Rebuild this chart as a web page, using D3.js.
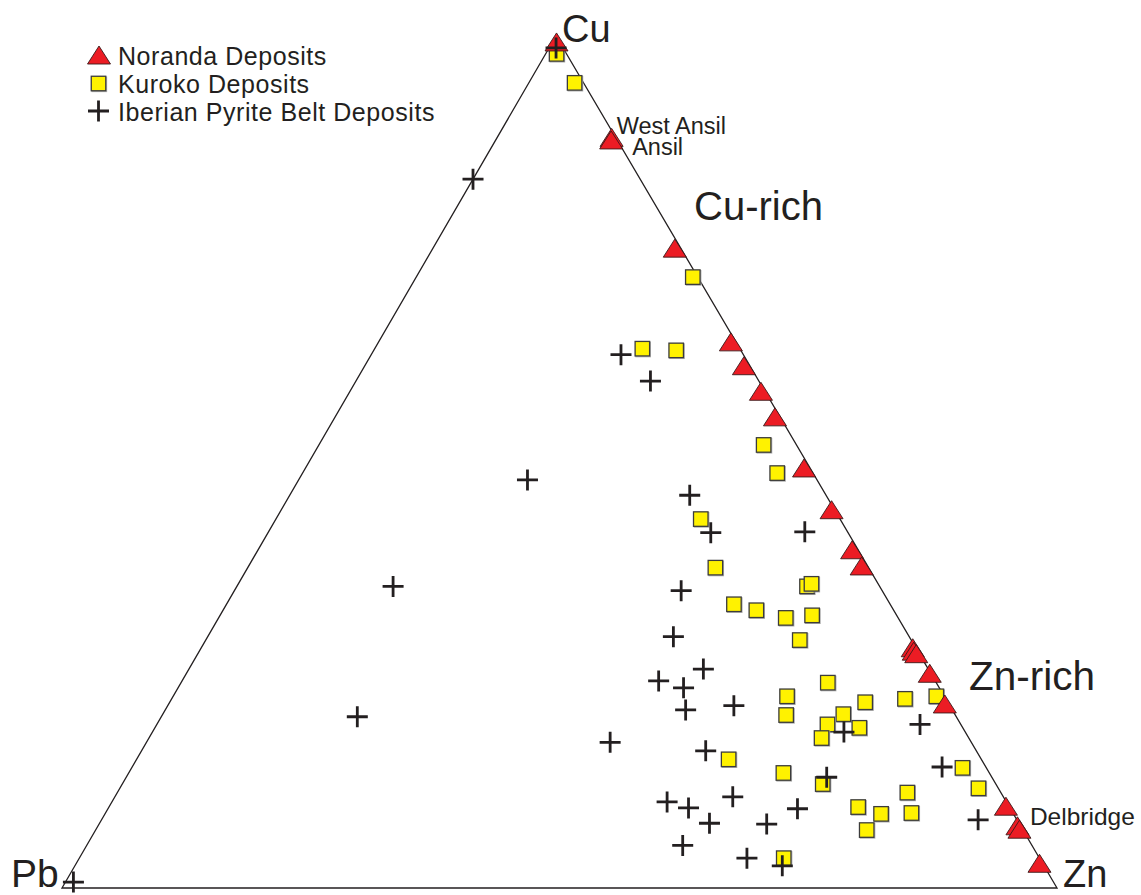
<!DOCTYPE html>
<html>
<head>
<meta charset="utf-8">
<script src="https://cdn.jsdelivr.net/npm/d3@7"></script>
<style>
  html, body { margin: 0; padding: 0; background: #ffffff; }
  svg { display: block; }
  text { font-family: "Liberation Sans", Arial, Helvetica, sans-serif; fill: #231f20; }
</style>
</head>
<body>
<div id="chart"></div>
<script>
// ---- Data (percent Cu, Zn, Pb) ----
const norandaNames = ["", "West Ansil", "Ansil", "", "", "", "", "", "", "", "", "", "", "", "", "", "", "Delbridge", "", "", ""];
const norandaCu = [99.3, 88.1, 87.8, 75.1, 64.1, 61.3, 58.3, 55.3, 49.3, 44.4, 39.7, 37.8, 28.2, 27.8, 27.5, 25.2, 21.6, 9.6, 7.3, 6.9, 2.9];
const norandaZn = [0.4, 11.5, 11.6, 24.3, 35.4, 38.1, 41.3, 44.2, 50.1, 55.3, 59.7, 61.6, 71.5, 71.8, 72.2, 74.7, 78.0, 90.1, 92.4, 92.8, 96.8];
const norandaPb = [0.3, 0.4, 0.6, 0.6, 0.5, 0.6, 0.4, 0.5, 0.6, 0.3, 0.6, 0.6, 0.3, 0.4, 0.3, 0.1, 0.4, 0.3, 0.3, 0.3, 0.3];

const kurokoCu = [97.9, 94.5, 71.7, 63.3, 63.1, 52.0, 48.7, 43.3, 37.6, 33.3, 32.6, 31.7, 35.4, 35.7, 32.0, 29.1, 24.1, 22.5, 20.3, 21.8, 22.2, 22.5, 20.4, 19.2, 17.6, 18.8, 15.1, 13.5, 14.1, 12.2, 11.7, 11.2, 9.5, 8.7, 8.8, 6.8, 3.5];
const kurokoZn = [1.1, 4.6, 27.8, 26.9, 30.4, 44.7, 47.7, 42.7, 47.0, 51.0, 53.6, 57.0, 57.3, 57.6, 59.5, 59.7, 65.0, 61.7, 62.7, 69.9, 73.7, 76.7, 68.4, 67.4, 67.6, 70.8, 59.5, 65.8, 83.5, 70.4, 86.3, 79.4, 75.3, 78.0, 81.0, 77.5, 70.8];
const kurokoPb = [1.0, 0.9, 0.5, 9.8, 6.5, 3.3, 3.6, 14.0, 15.4, 15.7, 13.8, 11.3, 7.3, 6.7, 8.5, 11.2, 10.9, 15.8, 17.0, 8.3, 4.1, 0.8, 11.2, 13.4, 14.8, 10.4, 25.4, 20.7, 2.4, 17.4, 2.0, 9.4, 15.2, 13.3, 10.2, 15.7, 25.7];

const iberianCu = [98.6, 83.2, 62.6, 59.5, 47.9, 35.4, 20.1, 17.1, 46.1, 41.7, 41.8, 34.9, 29.5, 25.7, 24.3, 23.5, 20.9, 21.4, 18.3, 19.2, 16.1, 14.2, 13.0, 10.1, 9.4, 10.7, 7.6, 9.3, 7.5, 5.0, 3.5, 2.6, 8.0, 0.7];
const iberianZn = [0.7, 0.0, 25.1, 29.6, 23.0, 15.7, 19.7, 46.6, 40.2, 44.5, 53.9, 44.9, 46.8, 51.7, 47.9, 50.8, 52.3, 56.9, 69.5, 76.7, 56.7, 81.4, 70.4, 55.8, 58.3, 62.1, 61.3, 69.3, 67.1, 59.9, 67.1, 71.1, 88.1, 0.8];
const iberianPb = [0.7, 16.8, 12.3, 10.9, 29.1, 48.9, 60.2, 36.3, 13.7, 13.8, 4.3, 20.2, 23.7, 22.6, 27.8, 25.7, 26.8, 21.7, 12.2, 4.1, 27.2, 4.4, 16.6, 34.1, 32.3, 27.2, 31.1, 21.4, 25.4, 35.1, 29.4, 26.3, 3.9, 98.5];

const seriesNames = ["Noranda Deposits", "Kuroko Deposits", "Iberian Pyrite Belt Deposits"];
const vertexLabels = ["Cu", "Pb", "Zn"];
const fieldLabels = ["Cu-rich", "Zn-rich"];

// ---- Layout ----
const W = 1141, H = 895;
const svg = d3.select("#chart").append("svg").attr("width", W).attr("height", H);
svg.append("rect").attr("width", W).attr("height", H).attr("fill", "#ffffff");

// Ternary scales: Cu sets height, Zn sets position along base, Cu shifts toward apex.
const cuY = d3.scaleLinear().domain([0, 100]).range([888, 36]);
const znX = d3.scaleLinear().domain([0, 100]).range([62, 1057]);
const cuShift = d3.scaleLinear().domain([0, 100]).range([0, 556 - 62]);
const px = (cu, zn) => znX(zn) + cuShift(cu);
const py = (cu) => cuY(cu);

const ink = "#231f20";

// Frame triangle
const verts = [[px(100, 0), py(100)], [px(0, 0), py(0)], [px(0, 100), py(0)]];
svg.append("path")
  .attr("d", d3.line()(verts) + "Z")
  .attr("fill", "none").attr("stroke", ink).attr("stroke-width", 1.3)
  .attr("stroke-linejoin", "miter");

const toPts = (cu, zn, pb, names) => cu.map((c, i) => ({ cu: c, zn: zn[i], pb: pb[i], name: names ? names[i] : "" }));
const noranda = toPts(norandaCu, norandaZn, norandaPb, norandaNames);
const kuroko = toPts(kurokoCu, kurokoZn, kurokoPb);
const iberian = toPts(iberianCu, iberianZn, iberianPb);

// marker helpers
const triPath = (w, h) => `M0,${-h / 2}L${w / 2},${h / 2}L${-w / 2},${h / 2}Z`;
function drawTri(g, x, y) {
  g.append("path").attr("d", triPath(23, 18)).attr("transform", `translate(${x},${y})`)
    .attr("fill", "#ec1c24").attr("stroke", "#3a1a1a").attr("stroke-width", 0.9)
    .attr("stroke-linejoin", "miter");
}
function drawSq(g, x, y) {
  const s = 14.5;
  g.append("rect").attr("x", x - s / 2 + 0.8).attr("y", y - s / 2 + 0.8).attr("width", s).attr("height", s)
    .attr("fill", "none").attr("stroke", "#b0b0b0").attr("stroke-width", 1.2);
  g.append("rect").attr("x", x - s / 2).attr("y", y - s / 2).attr("width", s).attr("height", s)
    .attr("fill", "#fff200").attr("stroke", "#3c3c3c").attr("stroke-width", 1.3);
}
function drawCross(g, x, y) {
  const a = 10.5;
  g.append("path").attr("d", `M${x - a},${y}H${x + a}M${x},${y - a}V${y + a}`)
    .attr("stroke", ink).attr("stroke-width", 2.8).attr("fill", "none");
}

// Points: squares, triangles, then crosses on top
const gSq = svg.append("g");
kuroko.forEach(d => drawSq(gSq, px(d.cu, d.zn), py(d.cu)));
const gTri = svg.append("g");
noranda.forEach(d => drawTri(gTri, px(d.cu, d.zn), py(d.cu)));
const gCr = svg.append("g");
iberian.forEach(d => drawCross(gCr, px(d.cu, d.zn), py(d.cu)));

// Deposit name labels
const labelOffsets = { "West Ansil": [5, -3, 23.5], "Ansil": [21, 15, 23.5], "Delbridge": [24, 19, 24.5] };
noranda.filter(d => d.name).forEach(d => {
  const o = labelOffsets[d.name];
  svg.append("text").attr("x", px(d.cu, d.zn) + o[0]).attr("y", py(d.cu) + o[1])
    .attr("font-size", o[2]).text(d.name);
});

// Vertex labels
svg.append("text").attr("x", px(100, 0) + 6).attr("y", 42).attr("font-size", 38).text(vertexLabels[0]);
svg.append("text").attr("x", 11).attr("y", 887).attr("font-size", 39).text(vertexLabels[1]);
svg.append("text").attr("x", 1063).attr("y", 887).attr("font-size", 38).text(vertexLabels[2]);

// Field labels
svg.append("text").attr("x", 694).attr("y", 220).attr("font-size", 40).text(fieldLabels[0]);
svg.append("text").attr("x", 969).attr("y", 690).attr("font-size", 40.5).text(fieldLabels[1]);

// Legend
const lg = svg.append("g");
const rowY = [55, 83.5, 111];
drawTri(lg, 99, rowY[0]);
drawSq(lg, 98.5, rowY[1]);
drawCross(lg, 98.5, rowY[2]);
seriesNames.forEach((n, i) => {
  lg.append("text").attr("x", 118).attr("y", rowY[i] + 9.5).attr("font-size", 25)
    .attr("letter-spacing", 0.55).text(n);
});
</script>
</body>
</html>
